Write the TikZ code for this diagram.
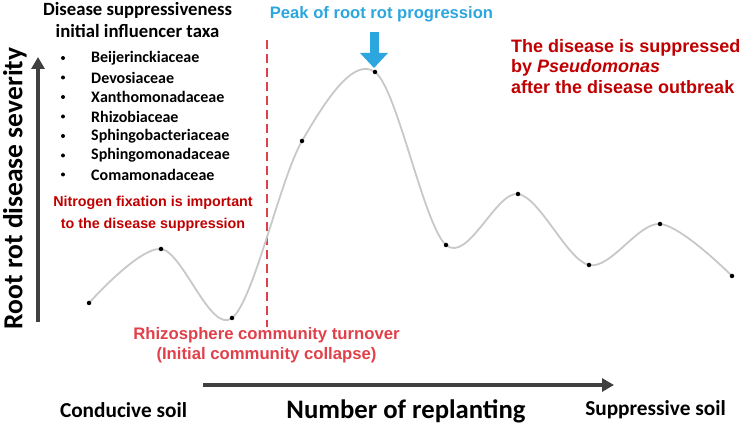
\documentclass[tikz,border=0pt]{standalone}
\usepackage{fontspec}
\setmainfont{Carlito}
\newfontfamily\arialf{Liberation Sans}
\usetikzlibrary{arrows.meta}
\definecolor{axisgray}{HTML}{404040}
\definecolor{darkred}{HTML}{C00000}
\definecolor{lightred}{HTML}{E0404A}
\definecolor{skyblue}{HTML}{2CA6DE}
\definecolor{curvegray}{HTML}{C8C8C8}
\tikzset{
  axisarrow/.style={draw=axisgray,line width=4.5pt,-{Triangle[width=13pt,length=12pt]}},
  blacktxt/.style={font=\bfseries\fontsize{18.7}{21}\selectfont,text=black,inner sep=0pt},
  taxon/.style={font=\bfseries\fontsize{16}{18}\selectfont,anchor=west,inner sep=0pt},
  bul/.style={circle,fill=black,inner sep=0pt,minimum size=4pt},
  dot/.style={circle,fill=black,inner sep=0pt,minimum size=4.5pt},
  redtxt/.style={font=\arialf\bfseries\fontsize{14.3}{22}\selectfont,text=darkred,align=center,inner sep=0pt},
  bigred/.style={font=\arialf\bfseries\fontsize{18}{20.5}\selectfont,text=darkred,align=left,inner sep=0pt},
  pinktxt/.style={font=\arialf\bfseries\fontsize{16.7}{20}\selectfont,text=lightred,align=center,inner sep=0pt},
  bluetxt/.style={font=\arialf\bfseries\fontsize{16.6}{19}\selectfont,text=skyblue,inner sep=0pt},
  soiltxt/.style={font=\bfseries\fontsize{21.3}{24}\selectfont,inner sep=0pt},
}
\begin{document}
\begin{tikzpicture}[x=1pt,y=-1pt]
\useasboundingbox (0,0) rectangle (750,427);
% axes
\coordinate (ybot) at (38,322);
\coordinate (ytop) at (38,57);
\coordinate (xl) at (203,385);
\coordinate (xr) at (614,385);
\draw[axisarrow] (ybot) -- (ytop);
\draw[axisarrow] (xl) -- (xr);
\node[rotate=90,font=\bfseries\fontsize{27.5}{30}\selectfont,inner sep=0pt] (ylab) at (15,188.5) {Root rot disease severity};
\node[font=\bfseries\fontsize{26.7}{30}\selectfont,inner sep=0pt] (xlab) at (406,411) {Number of replanting};
\node[soiltxt] (cond) at (123.5,410) {Conducive soil};
\node[soiltxt] (supp) at (655.5,410) {Suppressive soil};
% dashed line
\coordinate (dtop) at (267,40);
\coordinate (dbot) at (267,327);
\draw[lightred,line width=2pt,dash pattern=on 9pt off 5pt] (dtop) -- (dbot);
% curve points
\coordinate (p1) at (89,303);
\coordinate (p2) at (161,249);
\coordinate (p3) at (232,318);
\coordinate (p4) at (302,141);
\coordinate (p5) at (375,72);
\coordinate (p6) at (446,245);
\coordinate (p7) at (518,194);
\coordinate (p8) at (589,265);
\coordinate (p9) at (660,224);
\coordinate (p10) at (732,276);
\draw[curvegray,line width=1.8pt] plot[smooth,tension=0.55] coordinates {(p1) (p2) (p3) (p4) (p5) (p6) (p7) (p8) (p9) (p10)};
\foreach \p in {p1,p2,p3,p4,p5,p6,p7,p8,p9,p10} \node[dot] at (\p) {};
% left text
\node[blacktxt] (t1) at (137.5,10) {Disease suppressiveness};
\node[blacktxt] (t2) at (137.5,31) {initial influencer taxa};
\foreach \y/\t [count=\i] in {58/Beijerinckiaceae,77.5/Devosiaceae,97/Xanthomonadaceae,116.5/Rhizobiaceae,136/Sphingobacteriaceae,155.5/Sphingomonadaceae,174.5/Comamonadaceae}{
  \node[bul] (b\i) at (63,\y) {};
  \node[taxon] (tx\i) at (91,\y) {\t};
}
\node[redtxt] (nitro) at (153,214) {Nitrogen fixation is important\\to the disease suppression};
% bottom pink text
\node[pinktxt] (rhizo) at (266.5,345) {Rhizosphere community turnover\\(Initial community collapse)};
% blue
\node[bluetxt] (peak) at (381.5,14) {Peak of root rot progression};
\coordinate (barr1) at (374,32);
\coordinate (barr2) at (374,68);
\draw[skyblue,line width=9pt,-{Triangle[width=27pt,length=15pt]}] (barr1) -- (barr2);
% right text
\node[bigred,anchor=north west] (supr) at (511,39) {The disease is suppressed\\by \textit{Pseudomonas}\\after the disease outbreak};
\end{tikzpicture}
\end{document}
